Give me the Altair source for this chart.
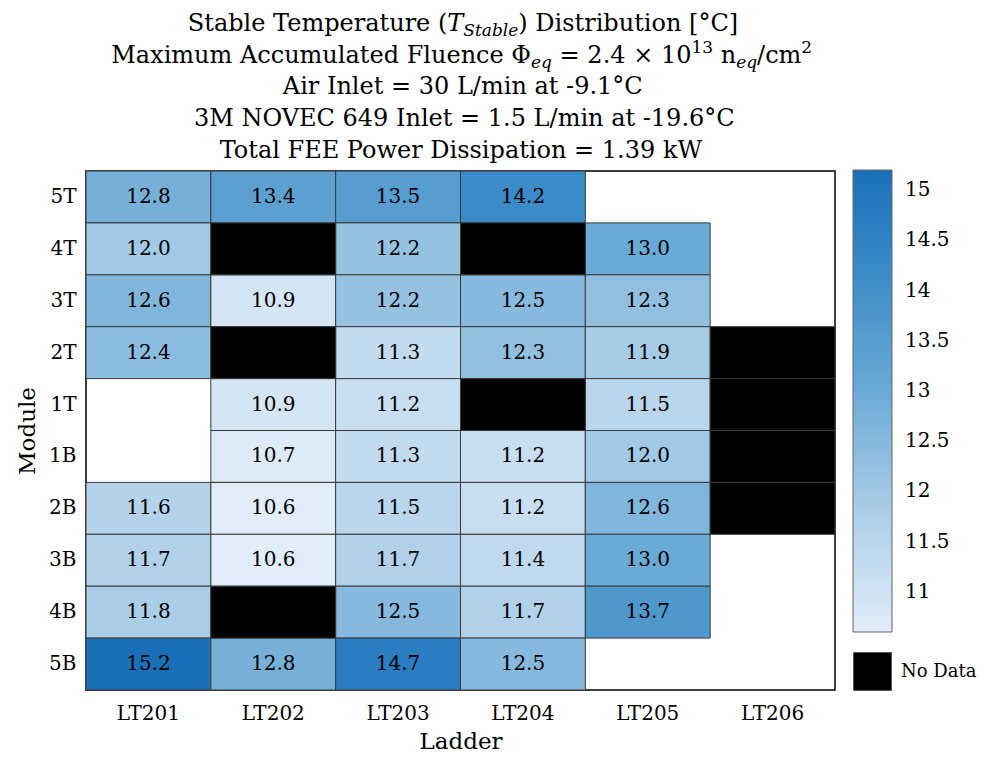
import altair as alt
import pandas as pd

FONT = "DejaVu Serif"

ladders = ["LT201", "LT202", "LT203", "LT204", "LT205", "LT206"]
modules = ["5T", "4T", "3T", "2T", "1T", "1B", "2B", "3B", "4B", "5B"]

ND = "ND"  # no data (black cell); None = no module (empty)
lt201 = [12.8, 12.0, 12.6, 12.4, None, None, 11.6, 11.7, 11.8, 15.2]
lt202 = [13.4, ND, 10.9, ND, 10.9, 10.7, 10.6, 10.6, ND, 12.8]
lt203 = [13.5, 12.2, 12.2, 11.3, 11.2, 11.3, 11.5, 11.7, 12.5, 14.7]
lt204 = [14.2, ND, 12.5, 12.3, ND, 11.2, 11.2, 11.4, 11.7, 12.5]
lt205 = [None, 13.0, 12.3, 11.9, 11.5, 12.0, 12.6, 13.0, 13.7, None]
lt206 = [None, None, None, ND, ND, ND, ND, None, None, None]
columns = [lt201, lt202, lt203, lt204, lt205, lt206]

colorbar_ticks = [11, 11.5, 12, 12.5, 13, 13.5, 14, 14.5, 15]
color_domain = [10.6, 11.8, 13.0, 14.2, 15.2]
color_range = ["#e1edf8", "#abcee8", "#6aaad6", "#3a8bc8", "#1a6fb7"]

rows_val, rows_nd = [], []
for lad, col in zip(ladders, columns):
    for mod, v in zip(modules, col):
        if v == ND:
            rows_nd.append({"ladder": lad, "module": mod, "status": "No Data"})
        elif v is not None:
            rows_val.append({"ladder": lad, "module": mod, "temp": v})
df_val = pd.DataFrame(rows_val)
df_nd = pd.DataFrame(rows_nd)

W, H = 749, 519
LBL = 20
CB_X, CB_Y, CB_LEN, CB_THICK = 767, -1, 462, 39

xenc = alt.X("ladder:N", sort=ladders,
             scale=alt.Scale(domain=ladders, paddingInner=0, paddingOuter=0),
             axis=alt.Axis(title="Ladder", labelAngle=0, labelPadding=13, titlePadding=7,
                           ticks=False, domain=False, labelFontSize=LBL, titleFontSize=23,
                           labelFont=FONT, titleFont=FONT, titleFontWeight="normal",
                           labelColor="black", titleColor="black"))
yenc = alt.Y("module:N", sort=modules,
             scale=alt.Scale(domain=modules, paddingInner=0, paddingOuter=0),
             axis=alt.Axis(title="Module", labelPadding=10, titlePadding=9,
                           ticks=False, domain=False, labelFontSize=LBL, titleFontSize=23,
                           labelFont=FONT, titleFont=FONT, titleFontWeight="normal",
                           labelColor="black", titleColor="black"))

cells = alt.Chart(df_val).mark_rect(stroke="#3a3a3a", strokeWidth=1).encode(
    x=xenc, y=yenc,
    color=alt.Color("temp:Q",
                    scale=alt.Scale(domain=color_domain, range=color_range),
                    legend=alt.Legend(orient="none", legendX=CB_X, legendY=CB_Y,
                                      direction="vertical", gradientLength=CB_LEN,
                                      gradientThickness=CB_THICK, gradientStrokeColor="#666",
                                      gradientStrokeWidth=1, title=None,
                                      values=colorbar_ticks, format=".1~f",
                                      labelFontSize=LBL, labelFont=FONT, labelColor="black",
                                      labelOffset=13, padding=0, zindex=0)),
)

nodata = alt.Chart(df_nd).mark_rect(stroke="#3a3a3a", strokeWidth=1).encode(
    x=xenc, y=yenc,
    fill=alt.Fill("status:N", scale=alt.Scale(domain=["No Data"], range=["black"]),
                  legend=alt.Legend(orient="none", legendX=CB_X, legendY=481, title=None,
                                    symbolType="square", symbolSize=1444,
                                    symbolStrokeColor="#555", symbolStrokeWidth=1,
                                    labelFontSize=18, labelFont=FONT, labelColor="black",
                                    labelOffset=9, padding=0)),
)

labels = alt.Chart(df_val).mark_text(fontSize=LBL, font=FONT, color="black", baseline="middle").encode(
    x=xenc, y=yenc, text=alt.Text("temp:Q", format=".1f"),
)

# small tick marks on the right edge of the colorbar
cb_ticks = alt.Chart(pd.DataFrame({"v": colorbar_ticks})).mark_rule(color="#444", strokeWidth=1).encode(
    x=alt.value(CB_X + CB_THICK - 5), x2=alt.value(CB_X + CB_THICK),
    y=alt.Y("v:Q", axis=None,
            scale=alt.Scale(domain=[color_domain[0], color_domain[-1]],
                            range=[CB_Y + CB_LEN, CB_Y], zero=False, nice=False)),
)

# ---- title built from pieces (sub/superscripts); approximate DejaVu Serif widths (em) ----
TW = {' ': .318, '(': .390, ')': .390, '[': .390, ']': .390, '°': .500, '=': .838, '×': .838,
      '/': .337, '.': .318, '-': .338, 'Φ': .850, 'A': .722, 'B': .735, 'C': .734, 'D': .830,
      'E': .715, 'F': .669, 'I': .373, 'L': .653, 'M': .995, 'N': .837, 'O': .787, 'P': .673,
      'S': .685, 'T': .667, 'V': .722, 'W': 1.03, 'a': .596, 'b': .640, 'c': .560, 'd': .640,
      'e': .592, 'f': .370, 'g': .640, 'h': .644, 'i': .320, 'k': .605, 'l': .320, 'm': .948,
      'n': .644, 'o': .602, 'p': .640, 'q': .640, 'r': .478, 's': .513, 't': .402, 'u': .644,
      'v': .565, 'w': .856, 'x': .564, 'y': .565}


def tw(s, size):
    return sum(.636 if ch.isdigit() else TW.get(ch, .6) for ch in s) * size


TS, SS = 24, 17
CX = 376
# (text, size, style, dy, anchor)
title_lines = [
    (-140, [("Stable Temperature (", TS, "normal", 0, "R"), ("T", TS, "italic", 0, "L"),
            ("Stable", SS, "italic", 5, "L"), (") Distribution [°C]", TS, "normal", 0, "L")]),
    (-108, [("Maximum Accumulated Fluence Φ", TS, "normal", 0, "R"),
            ("eq", SS, "italic", 5, "L"),
            (" = 2.4 × 10", TS, "normal", 0, "R"),
            ("13", SS, "normal", -10, "L"),
            (" n", TS, "normal", 0, "L"),
            ("eq", SS, "italic", 5, "L"),
            ("/cm", TS, "normal", 0, "R"),
            ("2", SS, "normal", -10, "L")]),
    (-77, [("Air Inlet = 30 L/min at -9.1°C", TS, "normal", 0, "L")]),
    (-45, [("3M NOVEC 649 Inlet = 1.5 L/min at -19.6°C", TS, "normal", 0, "L")]),
    (-13, [("Total FEE Power Dissipation = 1.39 kW", TS, "normal", 0, "L")]),
]

title_layers = []
for ybase, pieces in title_lines:
    total = sum(tw(t, s) for t, s, _, _, _ in pieces)
    x = CX - total / 2.0
    for t, s, st, dy, anc in pieces:
        lead = len(t) - len(t.lstrip(" "))
        body = t.strip(" ")
        xs = x + tw(" " * lead, s)
        if anc == "R":
            xpos, al = xs + tw(body, s), "right"
        else:
            xpos, al = xs, "left"
        layer = alt.Chart(pd.DataFrame({"t": [body]})).mark_text(
            font=FONT, fontSize=s, fontStyle=st, color="black",
            align=al, baseline="alphabetic").encode(
            x=alt.value(xpos), y=alt.value(ybase + dy), text="t:N")
        title_layers.append(layer)
        x += tw(t, s)

main = alt.layer(cells, nodata, labels, *title_layers)

chart = alt.layer(main, cb_ticks).resolve_scale(y="independent").properties(
    width=W, height=H,
    autosize=alt.AutoSizeParams(type="none"),
    padding={"left": 78, "top": 163, "right": 144, "bottom": 65},
).configure_view(stroke="black", strokeWidth=1.5).configure_axis(grid=False)

chart.save("out.html", embed_options={"renderer": "svg", "actions": False})
